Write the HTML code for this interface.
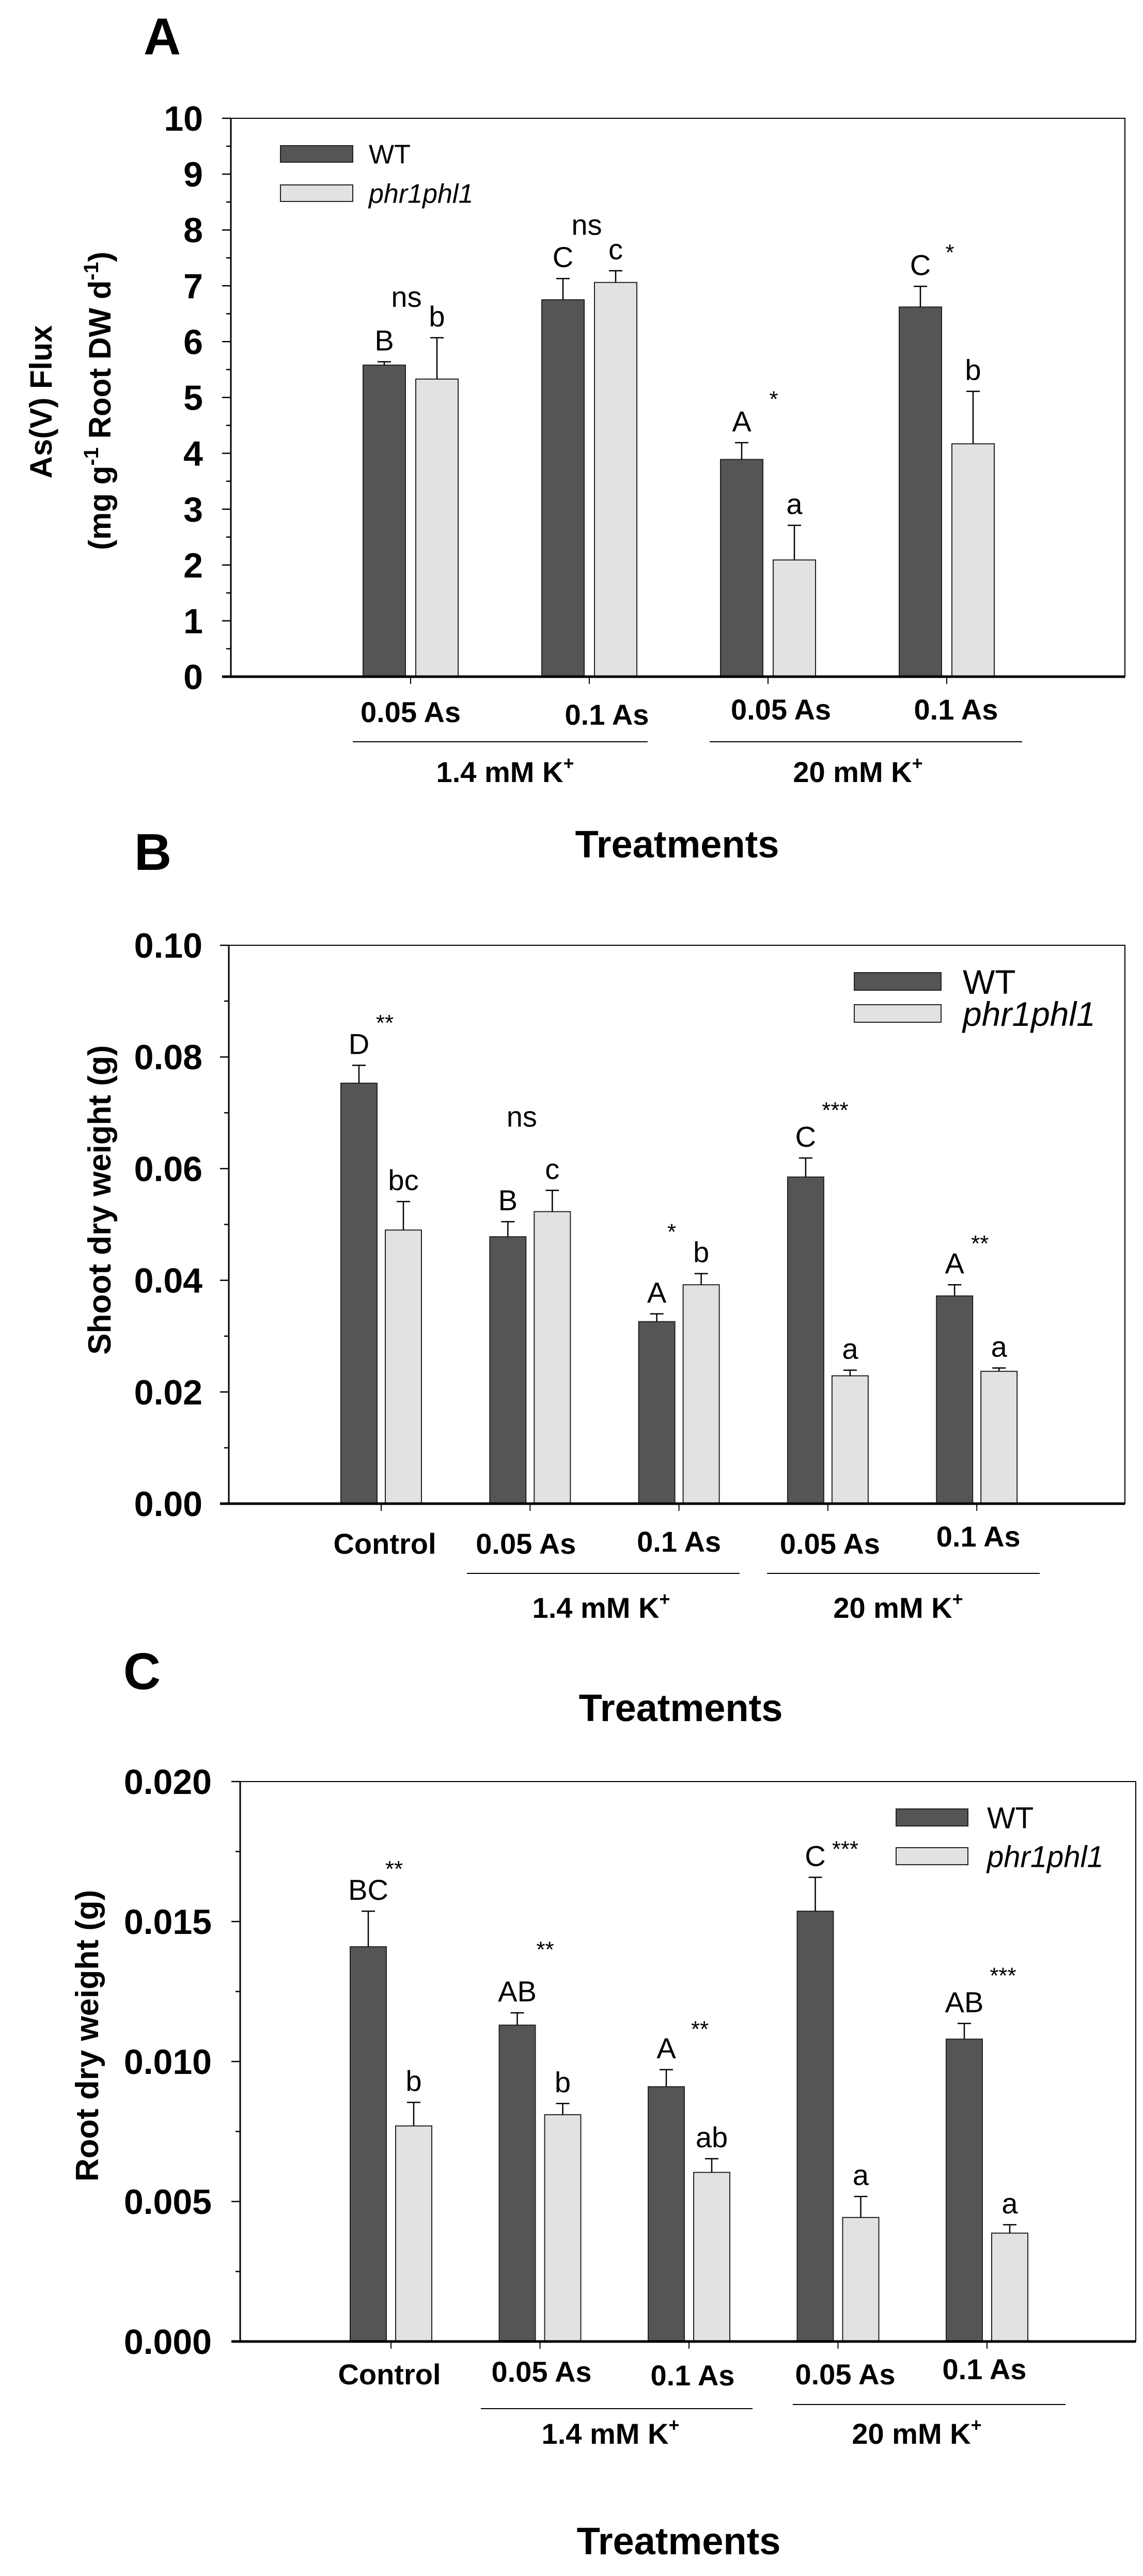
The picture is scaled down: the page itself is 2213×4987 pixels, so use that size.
<!DOCTYPE html>
<html><head><meta charset="utf-8">
<style>
html,body{margin:0;padding:0;background:#fff}
svg{display:block;font-family:"Liberation Sans",Arial,sans-serif}
</style></head>
<body>
<svg id="fig" width="2213" height="4987" viewBox="0 0 2213 4987" xmlns="http://www.w3.org/2000/svg"></svg>
<script>
// ---------- Panel A data ----------
const catsA = ["0.05 As","0.1 As","0.05 As","0.1 As"];
const wtA = [5.58, 6.75, 3.89, 6.62];
const wtErrA = [0.06, 0.38, 0.30, 0.37];
const phrA = [5.33, 7.06, 2.09, 4.17];
const phrErrA = [0.74, 0.21, 0.62, 0.94];
const ticksA = ["0","1","2","3","4","5","6","7","8","9","10"];
const wtLetA = ["B","C","A","C"];
const phrLetA = ["b","c","a","b"];
const sigA = ["ns","ns","*","*"];
const sigYA = [6.79, 8.08, 5.11, 7.74];
// ---------- Panel B data ----------
const catsB = ["Control","0.05 As","0.1 As","0.05 As","0.1 As"];
const wtB = [0.0753, 0.0478, 0.0326, 0.0585, 0.0372];
const wtErrB = [0.0032, 0.0027, 0.0014, 0.0034, 0.0020];
const phrB = [0.0490, 0.0523, 0.0392, 0.0229, 0.0237];
const phrErrB = [0.0051, 0.0038, 0.0020, 0.0010, 0.0006];
const ticksB = ["0.00","0.02","0.04","0.06","0.08","0.10"];
const wtLetB = ["D","B","A","C","A"];
const phrLetB = ["bc","c","b","a","a"];
const sigB = ["**","ns","*","***","**"];
const sigYB = [0.0875, 0.0692, 0.0501, 0.0719, 0.0480];
// ---------- Panel C data ----------
const catsC = ["Control","0.05 As","0.1 As","0.05 As","0.1 As"];
const wtC = [0.0141, 0.0113, 0.0091, 0.01537, 0.0108];
const wtErrC = [0.00127, 0.00044, 0.00061, 0.00121, 0.00056];
const phrC = [0.0077, 0.0081, 0.00604, 0.00443, 0.00387];
const phrErrC = [0.00084, 0.0004, 0.00049, 0.00075, 0.0003];
const ticksC = ["0.000","0.005","0.010","0.015","0.020"];
const wtLetC = ["BC","AB","A","C","AB"];
const phrLetC = ["b","b","ab","a","a"];
const sigC = ["**","**","**","***","***"];
const sigYC = [0.01716, 0.01428, 0.01144, 0.01787, 0.01335];

const NS = "http://www.w3.org/2000/svg";
const svg = document.getElementById("fig");
function mk(tag, attrs, parent){
  const e = document.createElementNS(NS, tag);
  for (const k in attrs) e.setAttribute(k, attrs[k]);
  (parent||svg).appendChild(e);
  return e;
}
function txt(s, x, y, size, opts, parent){
  const t = mk("text", {x:x, y:y, "font-size":size, "text-anchor":(opts&&opts.anchor)||"middle",
    "font-weight":(opts&&opts.bold)?"bold":"normal", "font-style":(opts&&opts.italic)?"italic":"normal", fill:"#000"}, parent);
  t.textContent = s;
  return t;
}

function panel(cfg){
  const g = mk("g", {});
  
  
  const L=cfg.left, R=cfg.right, T=cfg.top, B=cfg.bottom;
  const y = v => B - (v - 0) / cfg.max * (B - T);
  const x = i => cfg.x0 + cfg.step * i;
  const frame = mk("rect", {x:L, y:T, width:R-L, height:B-T, fill:"none", stroke:"#000", "stroke-width":2}, g);
  
  
  for (let i=0;i<cfg.wt.length;i++){
    const series = [[cfg.wt, cfg.wtErr, -cfg.off, "#555555", cfg.wtLet, "wt"],[cfg.phr, cfg.phrErr, cfg.off, "#e2e2e2", cfg.phrLet, "phr"]];
    for (const s of series){
      const cx = x(i) + s[2];
      const v = s[0][i], e = s[1][i];
      const bar = mk("rect", {x:cx-cfg.hw, y:y(v), width:2*cfg.hw, height:B-y(v), fill:s[3], stroke:"#222", "stroke-width":2}, g);
      
      
      const eb = mk("path", {d:`M${cx},${y(v)} V${y(v+e)} M${cx-13},${y(v+e)} H${cx+13}`, stroke:"#000", "stroke-width":2.5, fill:"none"}, g);
      
      
      const lt = txt(s[4][i], cx, y(v+e) - 22, 56, {}, g);
      
      
    }
    const st = txt(cfg.sig[i], x(i) + cfg.sigDx[i], y(cfg.sigY[i]) + (cfg.sig[i]==="ns"?18:30), cfg.sig[i]==="ns"?56:44, {}, g);
    
    
    mk("line", {x1:x(i), x2:x(i), y1:B, y2:B+14, stroke:"#000", "stroke-width":2}, g);
    const xl = txt(cfg.cats[i], x(i) + cfg.labDx[i], cfg.labY + cfg.labDy[i], 56, {bold:true}, g);
    
    
  }
  const n = cfg.ticks.length - 1;
  for (let k=0;k<=n;k++){
    const v = cfg.max * k / n;
    mk("line", {x1:L-17, x2:L, y1:y(v), y2:y(v), stroke:"#000", "stroke-width":2.5}, g);
    const tl = txt(cfg.ticks[k], cfg.labR, y(v) + 24, 68, {bold:true, anchor:"end"}, g);
    
    
    if (k<n){
      const vm = cfg.max*(k+0.5)/n;
      mk("line", {x1:L-9, x2:L, y1:y(vm), y2:y(vm), stroke:"#000", "stroke-width":2.5}, g);
    }
  }
  mk("line", {x1:L, x2:L, y1:T, y2:B, stroke:"#000", "stroke-width":3}, g);
  mk("line", {x1:L-17, x2:R, y1:B, y2:B, stroke:"#000", "stroke-width":5}, g);
  return {g, x, y};
}

function groupLabels(g, lines, labels, ly){
  lines.forEach((l, i) => {
    const ln = mk("line", {x1:l[0], x2:l[1], y1:l[2], y2:l[2], stroke:"#000", "stroke-width":2}, g);
    
    
    const t = txt(labels[i], l[3], ly, 56, {bold:true}, g);
    
    
    const sp = mk("tspan", {dy:-24, "font-size":36}, t);
    sp.textContent = "+";
  });
}

function legend(g, bx, by1, by2, bw, bh, tx, fs){
  const r1 = mk("rect", {x:bx, y:by1, width:bw, height:bh, fill:"#555555", stroke:"#222", "stroke-width":2}, g);
  
  
  const t1 = txt("WT", tx, by1+bh/2+fs*0.36, fs, {anchor:"start"}, g);
  
  
  const r2 = mk("rect", {x:bx, y:by2, width:bw, height:bh, fill:"#e2e2e2", stroke:"#222", "stroke-width":2}, g);
  
  
  const t2 = txt("phr1phl1", tx, by2+bh/2+fs*0.36, fs, {anchor:"start", italic:true}, g);
  
  
}

// ---------- Panel A ----------
const pA = panel({name:"panel-a", left:447, right:2178, top:229, bottom:1310, max:10, x0:795, step:346,
  off:51, hw:41, wt:wtA, wtErr:wtErrA, phr:phrA, phrErr:phrErrA, wtLet:wtLetA, phrLet:phrLetA,
  sig:sigA, sigY:sigYA, sigDx:[-8,-5,11,6], ticks:ticksA, labR:393, cats:catsA,
  labDx:[0,34,25,18], labY:1398, labDy:[0,5,-5,-5]});
groupLabels(pA.g, [[683,1254,1436,978],[1374,1979,1436,1661]], ["1.4 mM K","20 mM K"], 1514);
legend(pA.g, 543, 282, 358, 140, 32, 714, 52);
let t;
t = txt("A", 314, 105, 100, {bold:true});  
t = txt("Treatments", 1311, 1660, 74, {bold:true});  
t = txt("As(V)  Flux", 0, 0, 60, {bold:true}); t.setAttribute('transform','translate(100,778) rotate(-90)');
 
t = txt("", 0, 0, 60, {bold:true}); t.setAttribute('transform','translate(214,776) rotate(-90)');
 
(function(){
  const parts = [["(mg g",0],["-1",1],[" Root DW d",0],["-1",1],[")",0]];
  let up=false;
  parts.forEach(p=>{
    const s = mk("tspan", {}, t);
    if (p[1]){ s.setAttribute("dy",-24); s.setAttribute("font-size",40); up=true; }
    else if (up){ s.setAttribute("dy",24); up=false; }
    s.textContent = p[0];
  });
})();

// ---------- Panel B ----------
const pB = panel({name:"panel-b", left:443, right:2178, top:1830, bottom:2911, max:0.10, x0:738, step:288.3,
  off:43, hw:35, wt:wtB, wtErr:wtErrB, phr:phrB, phrErr:phrErrB, wtLet:wtLetB, phrLet:phrLetB,
  sig:sigB, sigY:sigYB, sigDx:[7,-16,-14,14,6], ticks:ticksB, labR:392, cats:catsB,
  labDx:[7,-8,0,4,3], labY:3008, labDy:[0,0,-4,0,-14]});
groupLabels(pB.g, [[904,1432,3046,1164],[1485,2013,3046,1739]], ["1.4 mM K","20 mM K"], 3132);
legend(pB.g, 1654, 1883, 1945, 168, 34, 1864, 66);
t = txt("B", 296, 1684, 100, {bold:true});  
t = txt("Treatments", 1318, 3332, 74, {bold:true});  
t = txt("Shoot dry weight (g)", 0, 0, 62, {bold:true}); t.setAttribute('transform','translate(214,2323) rotate(-90)');
 

// ---------- Panel C ----------
const pC = panel({name:"panel-c", left:465, right:2199, top:3449, bottom:4533, max:0.020, x0:757, step:288.5,
  off:44, hw:35, wt:wtC, wtErr:wtErrC, phr:phrC, phrErr:phrErrC, wtLet:wtLetC, phrLet:phrLetC,
  sig:sigC, sigY:sigYC, sigDx:[6,10,21,14,31], ticks:ticksC, labR:410, cats:catsC,
  labDx:[-3,3,7,14,-5], labY:4616, labDy:[0,-5,2,0,-10]});
groupLabels(pC.g, [[931,1457,4663,1182],[1535,2063,4655,1775]], ["1.4 mM K","20 mM K"], 4731);
legend(pC.g, 1735, 3502, 3577, 139, 33, 1911, 58);
t = txt("C", 275, 3270, 100, {bold:true});  
t = txt("Treatments", 1314, 4945, 74, {bold:true});  
t = txt("Root dry weight (g)", 0, 0, 62, {bold:true}); t.setAttribute('transform','translate(190,3941) rotate(-90)');
 
</script>
</body></html>
